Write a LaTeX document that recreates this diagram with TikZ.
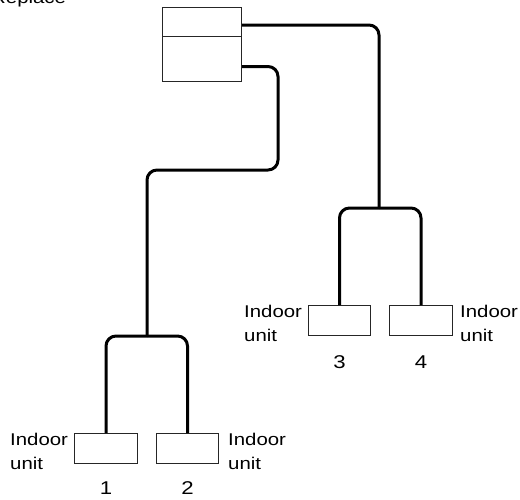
\documentclass[tikz,border=0pt]{standalone}
\usepackage{fontspec}
\setmainfont{Liberation Sans}
\newcommand\sxx[1]{\scalebox{1.2}[1]{#1}}
\newcommand\twolines[2]{\sxx{\begin{tabular}[t]{@{}l@{}}#1\\#2\end{tabular}}}
\begin{document}
\begin{tikzpicture}[x=1pt,y=-1pt,
  unitbox/.style={draw=black!85, line width=1pt, fill=white, inner sep=0pt, anchor=north west},
  pipe/.style={line width=3pt, rounded corners=10pt},
  lbl/.style={inner sep=0pt, font=\fontsize{17}{24}\selectfont},
  num/.style={inner sep=0pt, anchor=base, font=\fontsize{18.5}{22}\selectfont}]
\useasboundingbox (0,0) rectangle (520,499);
% outdoor unit
\node[unitbox, minimum width=79pt, minimum height=29pt] (out1) at (162,7) {};
\node[unitbox, minimum width=79pt, minimum height=45pt] (out2) at (162,36) {};
% indoor units
\node[unitbox, minimum width=62pt, minimum height=30pt] (box3) at (308,305) {};
\node[unitbox, minimum width=63pt, minimum height=30pt] (box4) at (389,305) {};
\node[unitbox, minimum width=63pt, minimum height=30pt] (box1) at (74,433) {};
\node[unitbox, minimum width=62pt, minimum height=30pt] (box2) at (156,433) {};
% junctions
\coordinate (j1) at (379,208);
\coordinate (c2) at (278,170);
\coordinate (j2) at (147,336);
% pipes
\draw[pipe] ([yshift=-3pt]out1.east) -| (j1);
\draw[pipe] (j1) -| (box3.north);
\draw[pipe] (j1) -| (box4.north);
\draw[pipe] ([yshift=-7.5pt]out2.east) -| (c2) -| (j2);
\draw[pipe] (j2) -| (box1.north);
\draw[pipe] (j2) -| (box2.north);
% labels
\node[lbl, anchor=base west] (title) at (-9,3.5) {\sxx{Replace}};
\node[lbl, anchor=base west] (l3) at (244,317) {\twolines{Indoor}{unit}};
\node[lbl, anchor=base west] (l4) at (460,317) {\twolines{Indoor}{unit}};
\node[lbl, anchor=base west] (l1) at (10,445) {\twolines{Indoor}{unit}};
\node[lbl, anchor=base west] (l2) at (228,445) {\twolines{Indoor}{unit}};
\node[num] (n3) at (box3.south |- 0,368) {\sxx{3}};
\node[num] (n4) at (box4.south |- 0,368) {\sxx{4}};
\node[num] (n1) at (box1.south |- 0,494.5) {\sxx{1}};
\node[num] (n2) at (box2.south |- 0,494.5) {\sxx{2}};
\end{tikzpicture}
\end{document}
